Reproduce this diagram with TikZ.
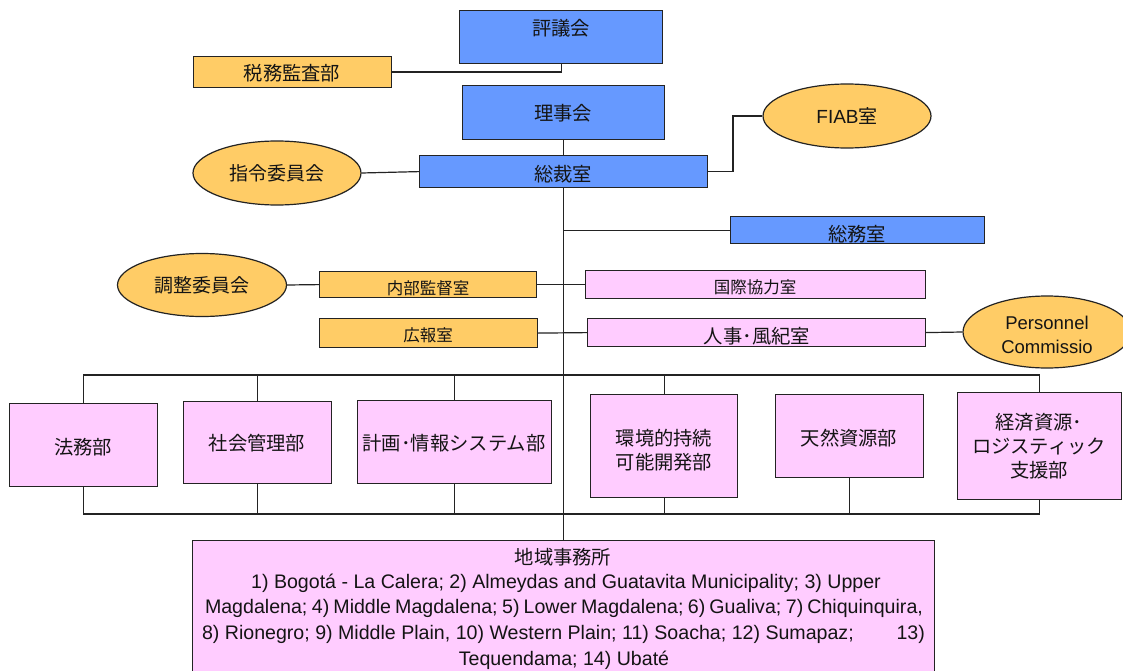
\documentclass[tikz,border=0pt]{standalone}
\usepackage{fontspec}
\setmainfont{Liberation Sans}
\newfontfamily\jp{Noto Sans CJK JP}
\usetikzlibrary{shapes.geometric}
\definecolor{cblue}{RGB}{102,153,255}
\definecolor{corange}{RGB}{255,204,102}
\definecolor{cpink}{RGB}{255,204,255}
\definecolor{cline}{RGB}{35,35,35}
\definecolor{ctext}{RGB}{20,20,20}
\begin{document}
\begin{tikzpicture}[x=1pt,y=-1pt,
  box/.style={draw=cline, line width=1.2pt, inner sep=0pt, anchor=north west},
  bluebox/.style={box, fill=cblue},
  orangebox/.style={box, fill=corange},
  pinkbox/.style={box, fill=cpink},
  oval/.style={ellipse, draw=cline, line width=1.2pt, fill=corange, inner sep=0pt, text=ctext, font=\jp\fontsize{19}{22}\selectfont},
  jlabel/.style={inner sep=0pt, text=ctext, font=\jp\fontsize{19.3}{24}\selectfont, align=center},
  jsmall/.style={inner sep=0pt, text=ctext, font=\jp\fontsize{16.5}{20}\selectfont},
  elabel/.style={inner sep=0pt, text=ctext, anchor=base, font=\fontsize{19.6}{24}\selectfont},
  conn/.style={draw=cline, line width=1.2pt}
]
\clip (0,0) rectangle (1123,671);
\useasboundingbox (0,0) rectangle (1123,671);
\fill[white] (0,0) rectangle (1123,671);

% top blue boxes
\node[bluebox, minimum width=203pt, minimum height=53pt] (council) at (459,10) {};
\node[jlabel] (tcouncil) at (561,28) {評議会};
\node[orangebox, minimum width=198pt, minimum height=31pt] (tax) at (193,56) {};
\node[jlabel] (ttax) at (292,73) {税務監査部};
\node[bluebox, minimum width=202pt, minimum height=54pt] (board) at (462,85) {};
\node[jlabel] (tboard) at (563,113) {理事会};
\node[bluebox, minimum width=288pt, minimum height=32pt] (pres) at (419,155) {};
\node[jlabel] (tpres) at (563,174) {総裁室};
\node[oval, minimum width=168pt, minimum height=64pt] (shirei) at (277,173) {指令委員会};
\node[oval, minimum width=168pt, minimum height=64pt, font=\fontsize{19}{22}\selectfont] (fiab) at (847,116) {FIAB{\jp 室}};
\node[bluebox, minimum width=254pt, minimum height=27pt] (somu) at (730,216) {};
\node[jlabel] (tsomu) at (857,234) {総務室};

% middle offices
\node[pinkbox, minimum width=340pt, minimum height=28pt] (intl) at (585,270) {};
\node[jsmall] (tintl) at (755,287) {国際協力室};
\node[orangebox, minimum width=217pt, minimum height=26pt] (audit) at (319,271) {};
\node[jsmall] (taudit) at (428,288) {内部監督室};
\node[oval, minimum width=169pt, minimum height=63pt] (chosei) at (202,285) {調整委員会};
\node[orangebox, minimum width=218pt, minimum height=29pt] (pr) at (319,318) {};
\node[jsmall] (tpr) at (428,335) {広報室};
\node[pinkbox, minimum width=338pt, minimum height=28pt] (hr) at (587,318) {};
\node[jlabel] (thr) at (757,336) {人事･風紀室};
\node[oval, minimum width=168pt, minimum height=72pt] (pers) at (1047,332) {};
\node[inner sep=0pt, text=ctext, font=\fontsize{18.5}{24}\selectfont, align=center] (tpers) at (1047,335) {Personnel\\Commissio};

% departments
\node[pinkbox, minimum width=148pt, minimum height=83pt] (legal) at (9,403) {};
\node[jlabel] (tlegal) at (83,447) {法務部};
\node[pinkbox, minimum width=148pt, minimum height=82pt] (social) at (183,401) {};
\node[jlabel] (tsocial) at (257,443) {社会管理部};
\node[pinkbox, minimum width=194pt, minimum height=83pt] (plan) at (357,400) {};
\node[jlabel] (tplan) at (454,443) {計画･情報システム部};
\node[pinkbox, minimum width=147pt, minimum height=103pt] (env) at (590,394) {};
\node[jlabel] (tenv) at (664,450) {環境的持続\\可能開発部};
\node[pinkbox, minimum width=148pt, minimum height=83pt] (nat) at (775,394) {};
\node[jlabel] (tnat) at (849,438) {天然資源部};
\node[pinkbox, minimum width=164pt, minimum height=107pt] (econ) at (957,392) {};
\node[jlabel] (tecon) at (1039,446) {経済資源･\\ロジスティック\\支援部};

% regional offices
\node[pinkbox, minimum width=742pt, minimum height=140pt] (region) at (192,540) {};
\node[jlabel] (treg0) at (563,557) {地域事務所};
\node[elabel] (treg1) at (566,588) {1) Bogotá - La Calera; 2) Almeydas and Guatavita Municipality; 3) Upper};
\node[elabel] (treg2) at (564,613) {\hbox to 718pt{Magdalena; 4) Middle Magdalena; 5) Lower Magdalena; 6) Gualiva; 7) Chiquinquira,}};
\node[elabel] (treg3) at (563.5,639) {\hbox to 723pt{8) Rionegro; 9) Middle Plain, 10) Western Plain; 11) Soacha; 12) Sumapaz;\hfill 13)}};
\node[elabel] (treg4) at (564,665) {Tequendama; 14) Ubaté};

% connectors
\coordinate (fj) at (733,0);
\coordinate (bt) at (0,375);
\coordinate (bb) at (0,514);
\draw[conn] (tax.east) -| (council.south);
\draw[conn] (board.south) -- (pres.north);
\draw[conn] (shirei.east) -- (pres.west);
\draw[conn] (pres.east) -- (pres.east -| fj) |- (fiab.west);
\draw[conn] (pres.south) -- (region.north);
\draw[conn] (somu.west) -- (somu.west -| pres.south);
\draw[conn] (audit.east) -- (intl.west);
\draw[conn] (chosei.east) -- (audit.west);
\draw[conn] (pr.east) -- (hr.west);
\draw[conn] (hr.east) -- (pers.west);
% top bus
\draw[conn] (legal.north) |- (econ.north |- bt) -- (econ.north);
\draw[conn] (social.north) -- (social.north |- bt);
\draw[conn] (plan.north) -- (plan.north |- bt);
\draw[conn] (env.north) -- (env.north |- bt);
% bottom bus
\draw[conn] (legal.south) |- (econ.south |- bb) -- (econ.south);
\draw[conn] (social.south) -- (social.south |- bb);
\draw[conn] (plan.south) -- (plan.south |- bb);
\draw[conn] (env.south) -- (env.south |- bb);
\draw[conn] (nat.south) -- (nat.south |- bb);
\end{tikzpicture}
\end{document}
